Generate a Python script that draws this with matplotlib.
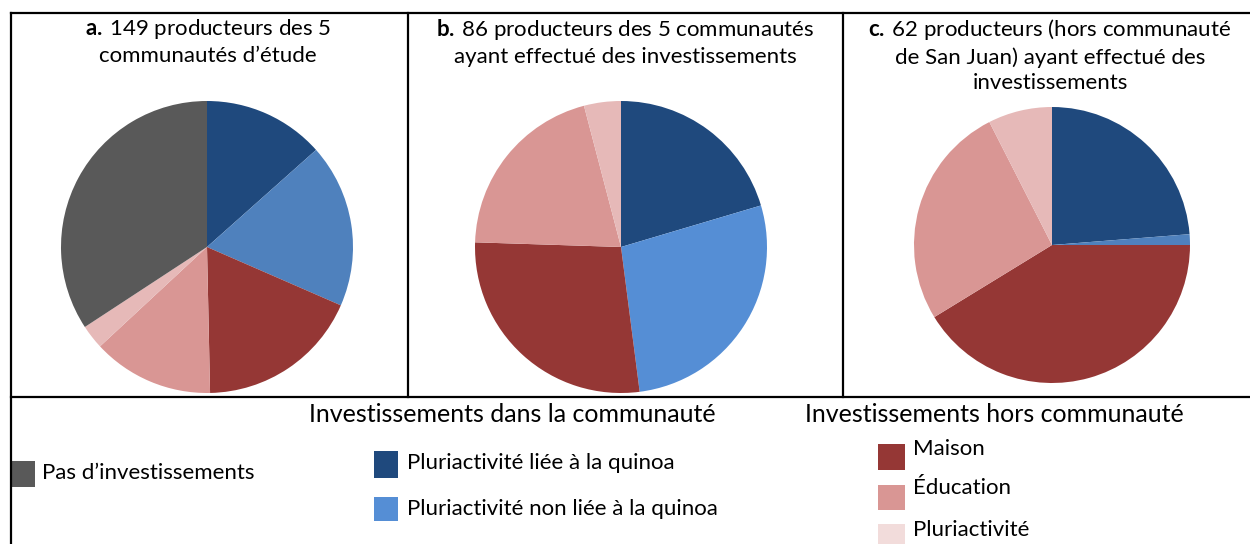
import matplotlib
matplotlib.use("Agg")
import matplotlib.pyplot as plt
from matplotlib.lines import Line2D
from matplotlib.patches import Rectangle

plt.rcParams['font.family'] = ['Lato', 'DejaVu Sans']
plt.rcParams['mathtext.fontset'] = 'custom'
plt.rcParams['mathtext.rm'] = 'Lato'
plt.rcParams['mathtext.bf'] = 'Lato:bold'

W, H = 1250, 544

# effectifs par type d'investissement (ordre horaire depuis midi)
categories = ["Pluriactivité liée à la quinoa", "Pluriactivité non liée à la quinoa",
              "Maison", "Éducation", "Pluriactivité", "Pas d’investissements"]
vals_a = [20, 27, 27, 20, 4, 51]
vals_b = [20, 27, 27, 20, 4]
vals_c = [19, 1, 33, 21, 6]

titles = [r"$\mathbf{a.}\,$149 producteurs des 5" + "\ncommunautés d’étude",
          r"$\mathbf{b.}\,$86 producteurs des 5 communautés" + "\nayant effectué des investissements",
          r"$\mathbf{c.}\,$62 producteurs (hors communauté" + "\nde San Juan) ayant effectué des\ninvestissements"]

col_a = ["#1f497d", "#4f81bd", "#953735", "#d99694", "#e6b9b8", "#595959"]
col_b = ["#1f497d", "#558ed5", "#953735", "#d99694", "#e6b9b8"]
col_c = ["#1f497d", "#4f81bd", "#953735", "#d99694", "#e6b9b8"]

fig = plt.figure(figsize=(W / 100, H / 100), dpi=100)


def fx(x):
    return x / W


def fy(y):
    return 1 - y / H


def pie_at(cx, cy, r, vals, cols):
    ax = fig.add_axes([fx(cx - r), fy(cy + r), 2 * r / W, 2 * r / H])
    ax.pie(vals, colors=cols, startangle=90, counterclock=False, radius=1,
           wedgeprops=dict(linewidth=0))
    ax.set_xlim(-1, 1)
    ax.set_ylim(-1, 1)
    ax.set_aspect('equal')
    ax.axis('off')


pie_at(207, 247, 146, vals_a, col_a)
pie_at(621, 247, 146, vals_b, col_b)
pie_at(1052, 245, 138, vals_c, col_c)

for x, t in zip([208, 625, 1050], titles):
    fig.text(fx(x), fy(17), t, ha='center', va='top', fontsize=16,
             linespacing=1.33)

# cadres
lw = 1.6
for (x0, y0, x1, y1) in [(11, 13, W, 13), (11, 13, 11, H), (408, 13, 408, 397),
                         (843, 13, 843, 397), (11, 397, W, 397)]:
    fig.add_artist(Line2D([fx(x0), fx(x1)], [fy(y0), fy(y1)], color='black',
                          lw=lw, solid_capstyle='projecting'))

# légende
fs = 18
fig.text(fx(512), fy(415), "Investissements dans la communauté", ha='center',
         va='center', fontsize=fs)
fig.text(fx(994), fy(414), "Investissements hors communauté", ha='center',
         va='center', fontsize=fs)

items = [(12, 461, 23, 26, "#595959", categories[5], 42, 473),
         (374, 451, 24, 27, "#1f497d", categories[0], 407, 463),
         (374, 497, 24, 24, "#558ed5", categories[1], 407, 509),
         (878, 444, 27, 26, "#953735", categories[2], 913, 449),
         (878, 485, 27, 25, "#d99694", categories[3], 913, 488),
         (878, 524, 27, 22, "#f2dcdb", categories[4], 913, 530)]
for x, y, w, h, c, lab, tx, ty in items:
    fig.add_artist(Rectangle((fx(x), fy(y + h)), w / W, h / H, color=c, lw=0))
    fig.text(fx(tx), fy(ty), lab, ha='left', va='center', fontsize=16)

fig.savefig("out.png", dpi=100)
